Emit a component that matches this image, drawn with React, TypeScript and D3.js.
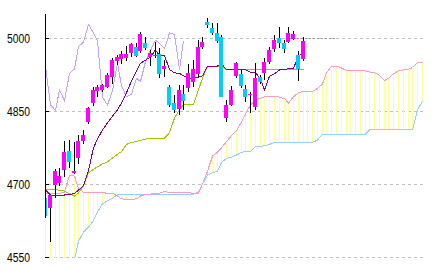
import React from "react";
import * as d3 from "d3";

// ---- data ----
const yTicks = [5000, 4850, 4700, 4550];

const openP = [4672, 4652, 4699, 4702, 4729, 4769, 4723, 4755, 4790, 4829,
  4867, 4892, 4894, 4900, 4921, 4953, 4957, 4960, 4970, 4983,
  4974, 4990, 4962, 4963, 4968, 4936, 4899, 4867, 4855, 4886,
  4898, 4910, 4927, 4983, 5034, 5021, 5011, 5003, 4836, 4863,
  4922, 4927, 4895, 4885, 4858, 4920, 4929, 4952, 4977, 5000,
  4990, 4993, 4998, 4966, 4957];
const highP = [4676, 4678, 4731, 4734, 4788, 4791, 4787, 4801, 4812, 4859,
  4899, 4904, 4906, 4929, 4960, 4965, 4974, 4985, 4991, 4990,
  5012, 5003, 4976, 4992, 4980, 4955, 4904, 4884, 4904, 4904,
  4947, 4955, 4996, 5003, 5042, 5032, 5031, 5007, 4873, 4901,
  4952, 4935, 4905, 4890, 4949, 4925, 4960, 4983, 5007, 5023,
  4997, 5023, 5016, 4973, 5002];
const lowP = [4631, 4582, 4672, 4697, 4715, 4734, 4721, 4742, 4783, 4824,
  4861, 4880, 4890, 4897, 4906, 4945, 4947, 4953, 4962, 4961,
  4970, 4976, 4943, 4960, 4918, 4921, 4859, 4846, 4843, 4853,
  4890, 4899, 4921, 4978, 5022, 5007, 4991, 4879, 4827, 4860,
  4918, 4897, 4870, 4846, 4853, 4907, 4914, 4947, 4972, 4980,
  4970, 4990, 4997, 4912, 4953];
const closeP = [4634, 4677, 4727, 4717, 4767, 4745, 4727, 4788, 4801, 4857,
  4894, 4900, 4904, 4925, 4955, 4962, 4968, 4968, 4988, 4963,
  5008, 4981, 4969, 4965, 4927, 4943, 4863, 4852, 4894, 4872,
  4928, 4937, 4983, 4992, 5028, 5011, 4995, 4879, 4863, 4893,
  4949, 4902, 4880, 4885, 4918, 4911, 4952, 4975, 4996, 4990,
  4979, 5011, 5008, 4936, 4995];

const tenkan = [4688, 4678, 4678, 4678, 4678, 4679, 4681, 4688, 4697, 4728,
  4775, 4793, 4812, 4826, 4840, 4853, 4867, 4888, 4912, 4933,
  4949, 4955, 4962, 4976, 4965, 4965, 4936, 4929, 4928, 4923,
  4918, 4918, 4920, 4923, 4943, 4943, 4943, 4948, 4935, 4935,
  4935, 4935, 4935, 4930, 4929, 4917, 4894, 4922, 4927, 4935,
  4935, 4938, 4938, 4965, 4968];
const kijun = [4690, 4690, 4689, 4688, 4686, 4681, 4676, 4682, 4697, 4723,
  4731, 4736, 4742, 4746, 4754, 4762, 4767, 4782, 4786, 4788,
  4790, 4793, 4795, 4795, 4795, 4795, 4806, 4836, 4853, 4864,
  4864, 4864, 4894, 4918, 4942, 4942, 4942, 4942, 4935, 4935,
  4935, 4935, 4935, 4935, 4935, 4935, 4935, 4935, 4935, 4935,
  4935, 4935, 4935, 4935, 4935];
const senkouA = [4681.5, 4681.5, 4681.5, 4681.5, 4684, 4719, 4717, 4692, 4683, 4683,
  4683, 4683, 4683, 4681.5, 4681.5, 4676, 4670, 4669, 4669, 4670,
  4676, 4679, 4680, 4681, 4681.5, 4685, 4683.5, 4683.5, 4683.5, 4683.5,
  4683.5, 4681, 4683, 4700, 4727, 4758, 4766, 4775, 4788, 4800,
  4810, 4828, 4845, 4863, 4873, 4877, 4880, 4880, 4881, 4879,
  4876, 4867, 4880, 4888, 4891, 4891, 4891, 4897, 4906, 4929,
  4943, 4943, 4939, 4934, 4933, 4933, 4933, 4933, 4931, 4929,
  4924, 4913, 4918, 4927, 4933, 4935, 4936, 4940, 4950, 4951];
const senkouB = [4530, 4530, 4530, 4530, 4530, 4530, 4545, 4583, 4602, 4612,
  4626, 4643, 4660, 4666, 4671, 4679, 4680, 4680, 4680, 4680,
  4680, 4680, 4680, 4680, 4680, 4680, 4680, 4680, 4680, 4680,
  4680, 4680, 4682, 4700, 4719, 4724, 4727, 4745, 4753, 4756,
  4760, 4766, 4767, 4768, 4777, 4778, 4779, 4782, 4786, 4786,
  4786, 4786, 4786, 4786, 4786, 4786, 4786, 4791, 4803, 4803,
  4803, 4803, 4803, 4803, 4803, 4803, 4803, 4803, 4812, 4812,
  4812, 4812, 4812, 4812, 4812, 4812, 4812, 4812, 4853, 4871];
const lagShift = 25;

const UP = "#ff00ff";
const DOWN = "#00ccff";

export default function App() {
  const x = d3.scaleLinear().domain([0, 79]).range([45.5, 45.5 + 4.77 * 79]);
  const y = d3.scaleLinear().domain([4550, 5000]).range([257.3, 38.3]);
  const px = (i: number) => Math.floor(x(i)) + 0.5;
  const mk = (offset = 0) =>
    d3.line<number>().x((_, i) => px(i + offset)).y((d) => y(d));
  const chikou = closeP.slice(lagShift);

  return (
    <svg
      width={432}
      height={271}
      style={{ position: "absolute", left: 0, top: 0, background: "#fff" }}
      shapeRendering="crispEdges"
    >
      <defs>
        <clipPath id="plot">
          <rect x={45} y={13} width={387} height={245} />
        </clipPath>
      </defs>
      {yTicks.map((t) => (
        <line
          key={"g" + t}
          x1={48}
          x2={426}
          y1={Math.floor(y(t)) + 0.5}
          y2={Math.floor(y(t)) + 0.5}
          stroke="#c0c0c0"
          strokeDasharray="3 3"
        />
      ))}
      <line x1={289} x2={336} y1={38.5} y2={38.5} stroke="#999" strokeDasharray="2 2" />
      <g clipPath="url(#plot)">
        {senkouA.map((a, i) => {
          const b = senkouB[i];
          return (
            <line
              key={"c" + i}
              x1={px(i)}
              x2={px(i)}
              y1={y(Math.max(a, b))}
              y2={y(Math.min(a, b))}
              stroke="#ffff99"
            />
          );
        })}
        <path d={mk()(senkouB) || ""} fill="none" stroke="#99ccff" />
        <path d={mk()(senkouA) || ""} fill="none" stroke="#ff99cc" />
        <path d={mk()(chikou) || ""} fill="none" stroke="#c8a0ff" />
        <path d={mk()(kijun) || ""} fill="none" stroke="#99cc00" />
        <path d={mk()(tenkan) || ""} fill="none" stroke="#800080" />
        {openP.map((o, i) => {
          const c = closeP[i];
          const top = Math.round(y(Math.max(o, c)));
          const bot = Math.round(y(Math.min(o, c)));
          return (
            <g key={"k" + i}>
              <line x1={px(i)} x2={px(i)} y1={y(highP[i])} y2={y(lowP[i])} stroke="#000" />
              <rect
                x={Math.floor(x(i)) - 2}
                y={top}
                width={4}
                height={Math.max(1, bot - top)}
                fill={c >= o ? UP : DOWN}
              />
            </g>
          );
        })}
      </g>
      <line x1={45.5} x2={45.5} y1={14} y2={218} stroke="#000" />
      {yTicks.map((t) => (
        <g key={"t" + t}>
          <line x1={45} x2={49} y1={Math.floor(y(t)) + 0.5} y2={Math.floor(y(t)) + 0.5} stroke="#000" />
          <text
            x={30}
            y={y(t) + 4.5}
            textAnchor="end"
            fontFamily="Liberation Sans, Arial, sans-serif"
            fontSize={12}
            textLength={23}
            lengthAdjust="spacingAndGlyphs"
            fill="#000"
          >
            {t}
          </text>
        </g>
      ))}
    </svg>
  );
}
